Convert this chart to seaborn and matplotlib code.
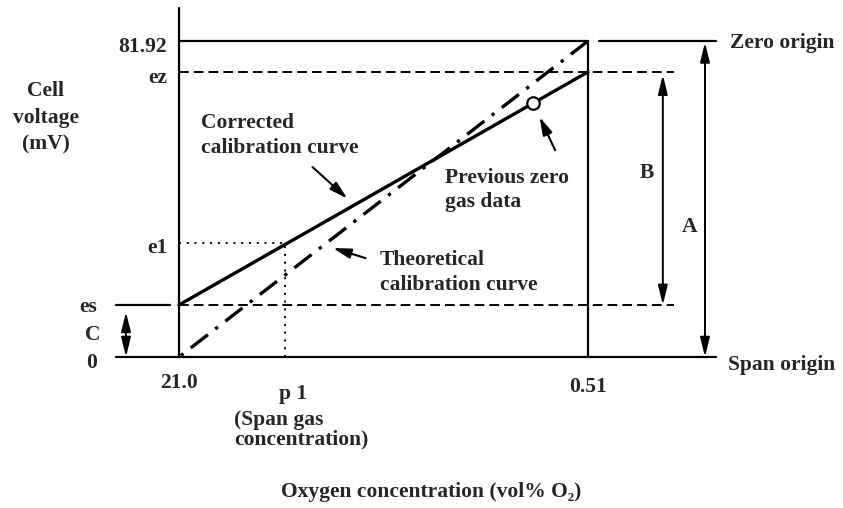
import numpy as np
import pandas as pd
import matplotlib
matplotlib.use("Agg")
import matplotlib.pyplot as plt
import matplotlib.transforms as mtransforms
import seaborn as sns

# Oxygen concentration scale (vol% O2)
o2_span_origin = 21.0     # left end of the scale
o2_zero_origin = 0.51     # right end of the scale
o2_span_gas = 8.0         # p1, span gas concentration
o2_prev_zero = 0.84       # previous zero gas reading

# Cell voltages (mV)
mv_top = 81.92
mv_ez = 73.9
mv_e1 = 29.5
mv_es = 13.5
mv_prev_zero = 65.8

# Calibration curves
corrected_o2 = [o2_span_origin, o2_zero_origin]
corrected_mv = [mv_es, mv_ez]
theoretical_o2 = [o2_span_origin, o2_zero_origin]
theoretical_mv = [0.0, mv_top]

# Points on the curves that the callout arrows point at
corrected_pointer = (4.26, 39.4)
theoretical_pointer = (5.64, 29.0)

# Tick labels
ytick_upper_values = [mv_top, mv_ez, mv_e1]
ytick_upper_labels = ["81.92", "ez", "e1"]
ytick_upper_drop = [11, 11, 10]
ytick_lower_values = [mv_es, 0.0]
ytick_lower_labels = ["es", "0"]
ytick_lower_drop = [7, 11]

sns.set_theme(style="white")
plt.rcParams["font.family"] = ["Liberation Serif", "DejaVu Serif"]
plt.rcParams["font.weight"] = "bold"
FS = 15.5

W, H = 843, 508
fig = plt.figure(figsize=(W / 100, H / 100), dpi=100)
fig.patch.set_facecolor("white")
ax = fig.add_axes([179 / W, 1 - 357 / H, 409 / W, 316 / H])

curves = pd.DataFrame({
    "o2": corrected_o2 + theoretical_o2,
    "mv": corrected_mv + theoretical_mv,
    "curve": ["Corrected"] * 2 + ["Theoretical"] * 2,
})
sns.lineplot(data=curves[curves["curve"] == "Corrected"], x="o2", y="mv",
             color="black", lw=2.4, ax=ax, legend=False, clip_on=False, zorder=4)
sns.lineplot(data=curves[curves["curve"] == "Theoretical"], x="o2", y="mv",
             color="black", lw=2.4, ax=ax, legend=False, clip_on=False, zorder=4,
             linestyle=(0, (6.5, 2.8, 1, 2.8)))

ax.set_xscale("log")
ax.set_xlim(o2_span_origin, o2_zero_origin)
ax.set_ylim(0, mv_top)
ax.axis("off")

K = "black"
LW = 1.6
# Frame lines
ax.axvline(o2_span_origin, 0, 1.104, color=K, lw=LW, clip_on=False)
ax.axvline(o2_zero_origin, 0, 1, color=K, lw=LW, clip_on=False)
ax.axhline(mv_top, 0, 1, color=K, lw=LW, clip_on=False)
ax.axhline(mv_top, 1.027, 1.313, color=K, lw=LW, clip_on=False)
ax.axhline(0, -0.154, 1.313, color=K, lw=LW, clip_on=False)
ax.axhline(mv_es, -0.154, -0.022, color=K, lw=LW, clip_on=False)
ax.axhline(mv_es, 0, 1.21, color=K, lw=1.4, ls=(0, (5, 2.6)), clip_on=False)
ax.axhline(mv_ez, 0, 1.21, color=K, lw=1.4, ls=(0, (5, 2.6)), clip_on=False)

# Span gas reading
ax.plot([o2_span_origin, o2_span_gas], [mv_e1, mv_e1], color=K, lw=1.4,
        ls=(0, (1, 3)), clip_on=False)
ax.plot([o2_span_gas, o2_span_gas], [0, mv_e1], color=K, lw=1.4,
        ls=(0, (1, 3)), clip_on=False)

# Previous zero gas point
ax.plot([o2_prev_zero], [mv_prev_zero], marker="o", ms=9, mfc="white",
        mec=K, mew=1.6, ls="none", zorder=5, clip_on=False)

xfrac_y = mtransforms.blended_transform_factory(ax.transAxes, ax.transData)


def span_arrow(xf, y0, y1, shrink_top=0):
    ax.annotate("", xy=(xf, y1), xytext=(xf, y0), xycoords=xfrac_y,
                textcoords=xfrac_y, annotation_clip=False,
                arrowprops=dict(arrowstyle="<|-|>,head_length=0.9,head_width=0.22",
                                mutation_scale=13, lw=1.4, color=K,
                                shrinkA=0, shrinkB=shrink_top))


span_arrow(1.286, 0, mv_top, 1)
span_arrow(1.183, mv_es, mv_ez, 2)
span_arrow(-0.1296, 0, mv_es, 5)


def pointer(xy, dx, dy, shrink):
    ax.annotate("", xy=xy, xytext=(dx, dy), textcoords="offset pixels",
                annotation_clip=False,
                arrowprops=dict(arrowstyle="-|>,head_length=0.9,head_width=0.25",
                                mutation_scale=12, lw=1.5, color=K,
                                shrinkA=0, shrinkB=shrink))


pointer(corrected_pointer, -42, 38, 7)
pointer(theoretical_pointer, 42, -13, 7)
pointer((o2_prev_zero, mv_prev_zero), 22, -47, 11)

# Voltage tick labels
for v, s, d in zip(ytick_upper_values, ytick_upper_labels, ytick_upper_drop):
    ax.annotate(s, xy=(-0.029, v), xycoords=xfrac_y, xytext=(0, -d),
                textcoords="offset pixels", ha="right", va="baseline",
                fontsize=FS, annotation_clip=False)
for v, s, d in zip(ytick_lower_values, ytick_lower_labels, ytick_lower_drop):
    ax.annotate(s, xy=(-0.2005, v), xycoords=xfrac_y, xytext=(0, -d),
                textcoords="offset pixels", ha="right", va="baseline",
                fontsize=FS, annotation_clip=False)
ax.annotate("C", xy=(-0.193, mv_es / 2), xycoords=xfrac_y, xytext=(0, -9),
            textcoords="offset pixels", ha="right", va="baseline",
            fontsize=FS, annotation_clip=False)


# Concentration tick labels
def xlabel_at(x, s, dx, dy, ha="center", **kw):
    ax.annotate(s, xy=(x, 0), xytext=(dx, dy), textcoords="offset pixels",
                ha=ha, va="baseline", fontsize=FS, annotation_clip=False, **kw)


xlabel_at(o2_span_origin, "21.0", 0, -31)
xlabel_at(o2_zero_origin, "0.51", 0, -35)
xlabel_at(o2_span_gas, "p 1", 8, -42)
xlabel_at(o2_span_gas, "(Span gas\nconcentration)", -51, -87, ha="left",
          multialignment="left", linespacing=0.95)


def label(x, y, s, ha="left"):
    fig.text(x / W, 1 - y / H, s, fontsize=FS, ha=ha, va="baseline")


label(46, 96, "Cell", "center")
label(46, 123, "voltage", "center")
label(46, 149, "(mV)", "center")
label(201, 128, "Corrected")
label(201, 153, "calibration curve")
label(445, 183, "Previous zero")
label(445, 207, "gas data")
label(380, 265, "Theoretical")
label(380, 290, "calibration curve")
label(640, 178, "B")
label(682, 232, "A")
label(730, 48, "Zero origin")
label(728, 370, "Span origin")
label(431, 497, "Oxygen concentration (vol% O\u2082)", "center")

fig.savefig("out.png", dpi=100, facecolor="white")
